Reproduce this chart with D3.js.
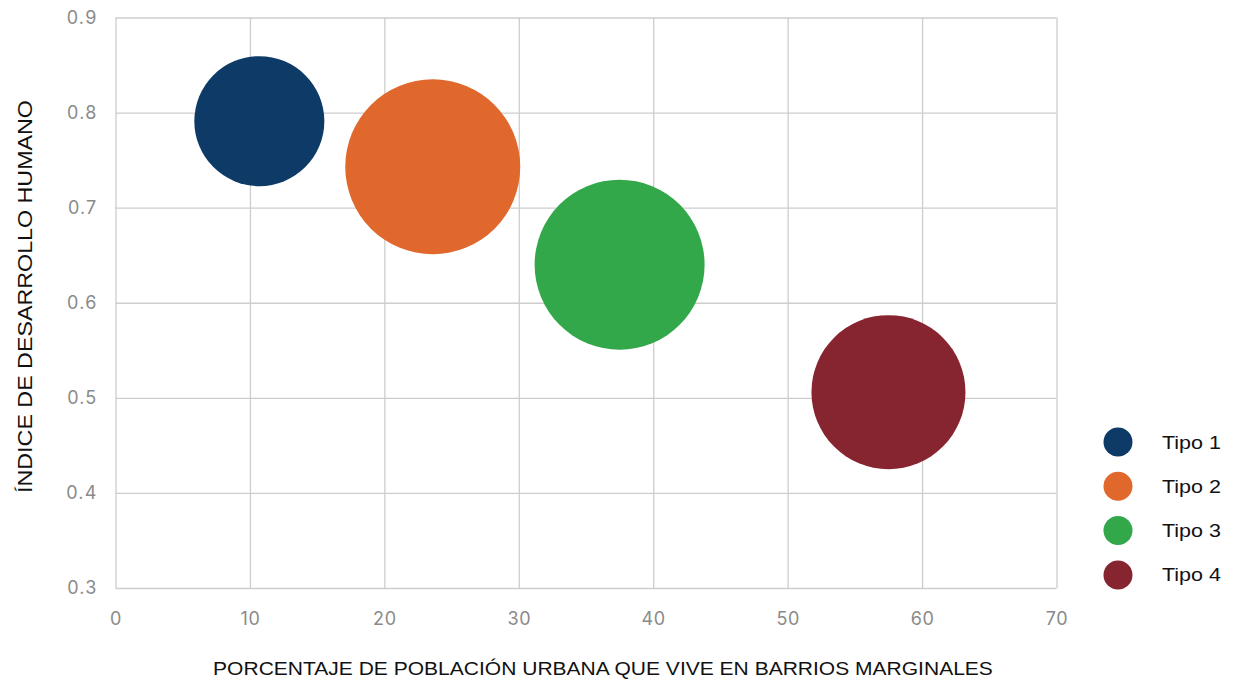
<!DOCTYPE html>
<html lang="es">
<head>
<meta charset="utf-8">
<script src="https://cdn.jsdelivr.net/npm/d3@7"></script>
<style>
  html, body { margin: 0; padding: 0; background: #fff; }
  svg { display: block; }
</style>
</head>
<body>
<svg id="chart" width="1235" height="685"></svg>
<script>
// Tipos de ciudades: % población en barrios marginales vs. IDH
const categories = ["Tipo 1", "Tipo 2", "Tipo 3", "Tipo 4"];
const slumShare = [10.7, 23.6, 37.5, 57.5];   // % población urbana en barrios marginales
const hdi = [0.791, 0.743, 0.640, 0.506];      // índice de desarrollo humano
const bubbleSize = [65, 87.5, 85, 77];         // tamaño relativo de cada burbuja
const colors = ["#0d3a66", "#e0682c", "#32a84a", "#86242f"];

const xTicks = [0, 10, 20, 30, 40, 50, 60, 70];
const yTicks = [0.3, 0.4, 0.5, 0.6, 0.7, 0.8, 0.9];

const xTitle = "PORCENTAJE DE POBLACIÓN URBANA QUE VIVE EN BARRIOS MARGINALES";
const yTitle = "ÍNDICE DE DESARROLLO HUMANO";

const svg = d3.select("#chart");
const plot = { left: 115.5, right: 1056.5, top: 17.5, bottom: 588 };

const x = d3.scaleLinear().domain([0, 70]).range([plot.left, plot.right]);
const y = d3.scaleLinear().domain([0.3, 0.9]).range([plot.bottom, plot.top]);
const r = d3.scaleLinear().domain([0, 100]).range([0, 100]);

const tickFont = "Inter, 'Open Sans', sans-serif";
const textFont = "'Liberation Sans', Arial, sans-serif";

// widen a label horizontally so its glyphs fill the given width
function stretchTo(sel, width, base) {
  sel.each(function () {
    const w = this.getComputedTextLength();
    const k = w > 0 ? width / w : 1;
    d3.select(this).attr("transform", `${base} scale(${k},1)`);
  });
}

// vertical grid lines + x tick labels
const xAxis = d3.axisBottom(x).tickValues(xTicks).tickSize(-(plot.bottom - plot.top))
  .tickFormat(d3.format("d"));
const gx = svg.append("g").attr("transform", `translate(0,${plot.bottom})`).call(xAxis);
gx.select(".domain").remove();
gx.selectAll(".tick line").attr("stroke", "#cdcdcd").attr("stroke-width", 1.3);
gx.selectAll(".tick text").attr("fill", "#8a8a8a").attr("font-size", 18)
  .attr("font-family", tickFont).attr("letter-spacing", 0.6)
  .attr("dy", "0.35em").attr("y", 31);

// horizontal grid lines + y tick labels
const yAxis = d3.axisLeft(y).tickValues(yTicks).tickSize(-(plot.right - plot.left))
  .tickFormat(d3.format(".1f"));
const gy = svg.append("g").attr("transform", `translate(${plot.left},0)`).call(yAxis);
gy.select(".domain").remove();
gy.selectAll(".tick line").attr("stroke", "#cdcdcd").attr("stroke-width", 1.3);
gy.selectAll(".tick text").attr("fill", "#8a8a8a").attr("font-size", 18)
  .attr("font-family", tickFont).attr("letter-spacing", 1.2).attr("x", -18);

// bubbles
const data = categories.map((c, i) => ({ c, x: slumShare[i], y: hdi[i], s: bubbleSize[i], col: colors[i] }));
svg.append("g").selectAll("circle").data(data).join("circle")
  .attr("cx", d => x(d.x)).attr("cy", d => y(d.y)).attr("r", d => r(d.s))
  .attr("fill", d => d.col);

// axis titles
svg.append("text").attr("text-anchor", "middle")
  .attr("font-family", textFont).attr("font-size", 18.5)
  .attr("fill", "#111").text(xTitle)
  .call(stretchTo, 780, "translate(603,675)");
svg.append("text").attr("text-anchor", "middle")
  .attr("font-family", textFont).attr("font-size", 20)
  .attr("fill", "#111").text(yTitle)
  .call(stretchTo, 393, "translate(31.5,296.5) rotate(-90)");

// legend
const legend = svg.append("g").attr("transform", "translate(1118,442)");
const items = legend.selectAll("g").data(data).join("g")
  .attr("transform", (d, i) => `translate(0,${i * 44.3})`);
items.append("circle").attr("r", 14.5).attr("fill", d => d.col);
items.append("text")
  .attr("font-family", textFont).attr("font-size", 18)
  .attr("fill", "#111").text(d => d.c)
  .call(stretchTo, 59, "translate(44,6.5)");
</script>
</body>
</html>
